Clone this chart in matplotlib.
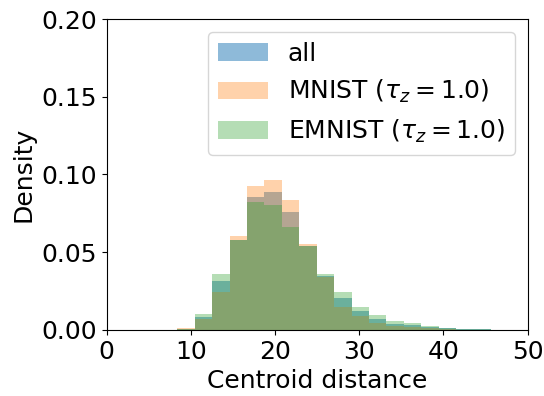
import numpy as np
import matplotlib
matplotlib.use("Agg")
from matplotlib import pyplot as plt

# bin edges (width ~2.07)
edges = np.linspace(8.39, 47.72, 20)

all_density = [0.0003, 0.0080, 0.0314, 0.0580, 0.0858, 0.0890, 0.0757, 0.0538,
               0.0347, 0.0206, 0.0124, 0.0067, 0.0040, 0.0030, 0.0017, 0.0010,
               0.0005, 0.0003, 0.0001]
mnist_density = [0.0010, 0.0070, 0.0245, 0.0601, 0.0923, 0.0964, 0.0836, 0.0551,
                 0.0341, 0.0149, 0.0089, 0.0041, 0.0025, 0.0018, 0.0010, 0.0005,
                 0.0002, 0.0001, 0.0000]
emnist_density = [0.0003, 0.0102, 0.0357, 0.0580, 0.0825, 0.0804, 0.0661, 0.0538,
                  0.0357, 0.0245, 0.0144, 0.0096, 0.0058, 0.0044, 0.0024, 0.0013,
                  0.0007, 0.0004, 0.0002]

labels = ["all", r"MNIST ($\tau_z = 1.0$)", r"EMNIST ($\tau_z = 1.0$)"]
colors = ["tab:blue", "tab:orange", "tab:green"]
alphas = [0.5, 0.35, 0.35]

plt.rcParams['font.size'] = 18

fig = plt.figure(figsize=(5.44, 3.96), dpi=100)
ax = fig.add_axes([0.196, 0.167, 0.774, 0.785])

for vals, lab, col, a in zip([all_density, mnist_density, emnist_density], labels, colors, alphas):
    ax.stairs(vals, edges, fill=True, alpha=a, color=col, label=lab)

ax.set_xlim(0, 50)
ax.set_ylim(0, 0.20)
ax.set_xticks([0, 10, 20, 30, 40, 50])
ax.set_yticks([0.0, 0.05, 0.10, 0.15, 0.20])
ax.set_xlabel("Centroid distance")
ax.set_ylabel("Density")
ax.legend(loc="upper right")

fig.savefig("out.png", dpi=100)
